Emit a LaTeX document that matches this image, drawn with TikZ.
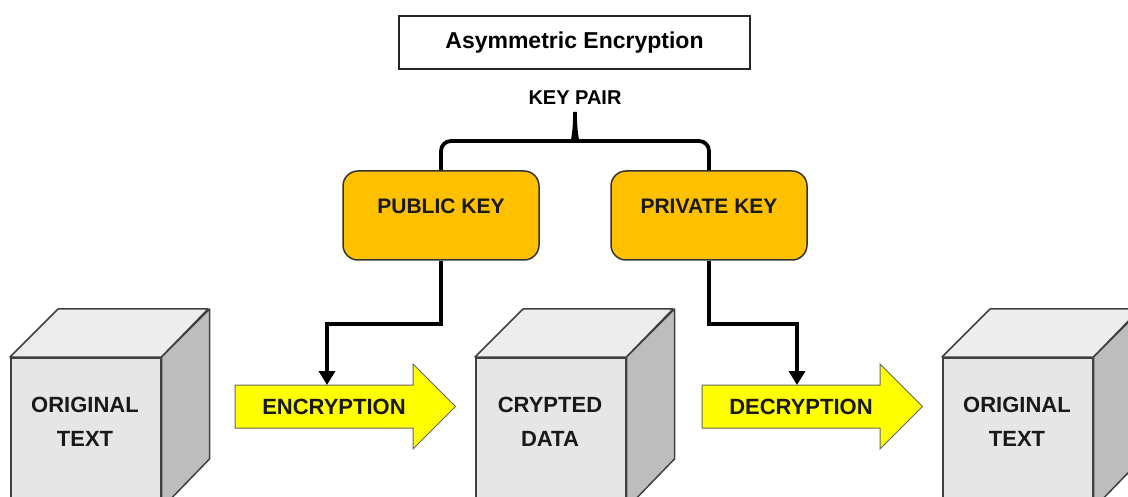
\documentclass[tikz,border=0pt]{standalone}
\usepackage{fontspec}
\setmainfont{Liberation Sans}
\usepackage{xcolor}
\usetikzlibrary{arrows.meta, positioning, calc}

\definecolor{cubefront}{HTML}{E6E6E6}
\definecolor{cubetop}{HTML}{EDEDED}
\definecolor{cubeside}{HTML}{BDBDBD}
\definecolor{keygold}{HTML}{FFC000}
\definecolor{arrowyellow}{HTML}{FFFF00}

\tikzset{
    face/.style={draw=black!75, line width=1.5pt, line join=round},
    cubebox/.style={face, fill=cubefront, minimum width=150pt, minimum height=150pt, inner sep=0pt},
    cubetext/.style={font=\bfseries\fontsize{22}{34}\selectfont, align=center, text=black!90},
    keybox/.style={draw=black!80, line width=1.5pt, fill=keygold, rounded corners=15pt, minimum width=196pt, minimum height=89pt},
    keytext/.style={font=\bfseries\fontsize{21}{25}\selectfont, text=black!90},
    flow/.style={draw=black!60, line width=1pt, fill=arrowyellow, line join=miter},
    flowtext/.style={font=\bfseries\fontsize{22}{26}\selectfont, text=black!90},
    keylink/.style={line width=3.8pt, -{Triangle[width=16pt,length=14pt]}},
    brace/.style={line width=3.8pt, rounded corners=10pt},
}

\begin{document}
\begin{tikzpicture}[x=1pt, y=-1pt]
    \useasboundingbox (0,0) rectangle (1128,497);
    \clip (0,0) rectangle (1128,497);

    % heading and key pair
    \node[draw=black!85, line width=1.2pt, minimum width=351pt, minimum height=53pt,
          font=\bfseries\fontsize{23}{27}\selectfont] (title) at (574.5,42.5) {Asymmetric Encryption};
    \node[font=\bfseries\fontsize{20}{24}\selectfont] (pair) at (575,97.5) {KEY PAIR};
    \coordinate (cusp) at (575,112);

    \node[keybox] (pub) at (441,215.5) {};
    \node[keybox] (priv) at (709,215.5) {};
    \node[keytext] (pubtxt) at (441,206) {PUBLIC KEY};
    \node[keytext] (privtxt) at (709,206) {PRIVATE KEY};

    \draw[brace] (pub.north) |- (563,141) .. controls (572,141) and (575,136) .. (cusp);
    \draw[brace] (priv.north) |- (587,141) .. controls (578,141) and (575,136) .. (cusp);

    % the three cubes
    \foreach \x/\name/\txt in {10/plain/{ORIGINAL\\TEXT}, 475/crypt/{CRYPTED\\DATA}, 942/result/{ORIGINAL\\TEXT}}{
        \node[cubebox, anchor=north west] (\name) at (\x,357) {};
        \draw[face, fill=cubetop] (\name.north west) -- ++(48,-48) -- ++(150,0) -- (\name.north east) -- cycle;
        \draw[face, fill=cubeside] (\name.north east) -- ++(48,-48) -- ++(0,150) -- (\name.south east) -- cycle;
        \node[cubetext] (\name-txt) at (\x+75,421.5) {\txt};
    }

    % encryption / decryption arrows
    \foreach \x/\name/\txt in {235/enc/ENCRYPTION, 702/dec/DECRYPTION}{
        \draw[flow] (\x,385) -- ++(178,0) -- ++(0,-21) -- ++(42.5,42.5) -- ++(-42.5,42.5)
            -- ++(0,-21) -- (\x,428) -- cycle;
        \node[flowtext] (\name) at (\x+99,406.5) {\txt};
    }
    \coordinate (encin) at (327,385);
    \coordinate (decin) at (797,385);

    \draw[keylink] (pub.south) -- ++(0,63) -| (encin);
    \draw[keylink] (priv.south) -- ++(0,63) -| (decin);
\end{tikzpicture}
\end{document}
